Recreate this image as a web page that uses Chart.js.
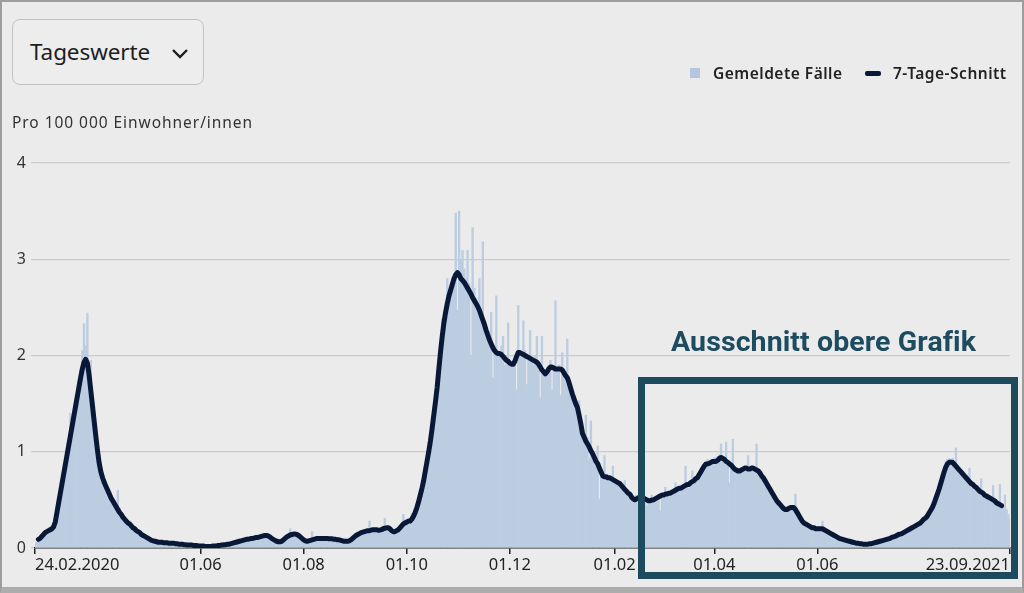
<!DOCTYPE html>
<html>
<head>
<meta charset="utf-8">
<script src="https://cdn.jsdelivr.net/npm/chart.js@4/dist/chart.umd.min.js"></script>
<style>
  html, body { margin: 0; padding: 0; }
  body { width: 1024px; height: 593px; background: #ebebeb; position: relative; overflow: hidden; font-family: "Noto Sans", sans-serif; color: #222; }
  #frame { position: absolute; left: 0; top: 0; width: 1024px; height: 593px; box-sizing: border-box; border: 2px solid #9d9d9d; border-bottom: 6px solid #adadad; pointer-events: none; z-index: 5; }
  #wrap { position: absolute; left: 0; top: 0; width: 1024px; height: 593px; }
  #dropdown { position: absolute; left: 12px; top: 19px; width: 192px; height: 66px; box-sizing: border-box; border: 1px solid #c3c3c3; border-radius: 8px; background: #ededed; z-index: 3; }
  #dropdown span { position: absolute; left: 17px; top: 17px; font-size: 22.5px; line-height: 30px; color: #1e1e1e; letter-spacing: -0.1px; }
  #dropdown svg { position: absolute; left: 157px; top: 26px; }
  #ytitle { position: absolute; left: 12px; top: 112px; font-size: 15.5px; line-height: 20px; color: #333; letter-spacing: 0.95px; z-index: 3; }
  .leg { position: absolute; top: 63px; font-size: 15.5px; line-height: 20px; font-weight: 600; color: #222; letter-spacing: 0.5px; z-index: 3; }
  #sw1 { position: absolute; left: 690px; top: 68px; width: 10px; height: 10px; background: #b3c6de; z-index: 3; }
  #sw2 { position: absolute; left: 865px; top: 71px; width: 16px; height: 5px; border-radius: 2px; background: #0a1838; z-index: 3; }
  #boxtitle { position: absolute; left: 671px; top: 324px; font-family: Roboto, sans-serif; font-weight: 700; font-size: 28.5px; line-height: 36px; color: #1d4c61; z-index: 3; letter-spacing: 0.1px; }
  #cutout { position: absolute; left: 638px; top: 377px; width: 380px; height: 202px; box-sizing: border-box; border: 7px solid #1c4b5e; z-index: 4; }
</style>
</head>
<body>
<div id="wrap"><canvas id="chart"></canvas></div>
<div id="dropdown"><span>Tageswerte</span>
  <svg width="20" height="14" viewBox="0 0 20 14"><path d="M3 4 L10 11 L17 4" fill="none" stroke="#1e1e1e" stroke-width="2.4"/></svg>
</div>
<div id="ytitle">Pro 100 000 Einwohner/innen</div>
<div id="sw1"></div><div class="leg" style="left:713px">Gemeldete Fälle</div>
<div id="sw2"></div><div class="leg" style="left:893px">7-Tage-Schnitt</div>
<div id="boxtitle">Ausschnitt obere Grafik</div>
<div id="cutout"></div>
<div id="frame"></div>
<script>
// daily values, 24.02.2020 .. 23.09.2021, per 100 000 inhabitants
const startDate = [2020, 1, 24]

const reported = [
  0.05, 0.06, 0.08, 0.10, 0.11, 0.13, 0.16, 0.18, 0.17, 0.20,
  0.22, 0.25, 0.30, 0.38, 0.50, 0.58, 0.66, 0.80, 0.92, 1.00,
  1.12, 1.40, 1.30, 1.45, 1.55, 1.62, 1.75, 1.85, 2.05, 2.33,
  2.10, 2.44, 1.90, 1.95, 1.50, 1.30, 1.15, 1.00, 0.85, 0.80,
  0.72, 0.70, 0.62, 0.60, 0.55, 0.52, 0.50, 0.48, 0.45, 0.60,
  0.42, 0.36, 0.33, 0.30, 0.28, 0.27, 0.25, 0.24, 0.22, 0.20,
  0.19, 0.17, 0.16, 0.15, 0.13, 0.12, 0.11, 0.10, 0.09, 0.08,
  0.08, 0.07, 0.07, 0.06, 0.06, 0.06, 0.05, 0.06, 0.05, 0.05,
  0.05, 0.05, 0.05, 0.04, 0.05, 0.04, 0.04, 0.04, 0.03, 0.04,
  0.03, 0.03, 0.03, 0.03, 0.02, 0.03, 0.02, 0.02, 0.02, 0.02,
  0.02, 0.01, 0.02, 0.01, 0.01, 0.02, 0.02, 0.02, 0.03, 0.02,
  0.03, 0.03, 0.04, 0.03, 0.04, 0.04, 0.05, 0.05, 0.06, 0.06,
  0.07, 0.07, 0.08, 0.08, 0.09, 0.09, 0.09, 0.10, 0.10, 0.11,
  0.11, 0.11, 0.12, 0.12, 0.12, 0.13, 0.14, 0.13, 0.12, 0.11,
  0.10, 0.09, 0.08, 0.07, 0.07, 0.06, 0.07, 0.09, 0.10, 0.12,
  0.13, 0.20, 0.14, 0.15, 0.15, 0.14, 0.13, 0.12, 0.10, 0.09,
  0.08, 0.07, 0.08, 0.08, 0.17, 0.09, 0.10, 0.10, 0.10, 0.11,
  0.10, 0.10, 0.10, 0.10, 0.10, 0.09, 0.10, 0.09, 0.09, 0.08,
  0.09, 0.08, 0.08, 0.07, 0.07, 0.07, 0.08, 0.09, 0.10, 0.12,
  0.13, 0.14, 0.15, 0.16, 0.17, 0.17, 0.18, 0.19, 0.28, 0.18,
  0.19, 0.19, 0.20, 0.18, 0.19, 0.19, 0.20, 0.31, 0.21, 0.22,
  0.20, 0.18, 0.17, 0.18, 0.18, 0.19, 0.22, 0.23, 0.35, 0.27,
  0.28, 0.29, 0.30, 0.36, 0.33, 0.38, 0.43, 0.50, 0.57, 0.64,
  0.72, 0.82, 0.92, 1.02, 1.13, 1.27, 1.40, 1.55, 1.70, 1.90,
  2.10, 2.38, 2.38, 2.50, 2.80, 2.65, 2.72, 2.80, 2.85, 3.48,
  2.47, 3.50, 3.00, 3.09, 2.90, 2.80, 3.09, 2.75, 2.00, 3.33,
  2.70, 2.60, 2.55, 2.80, 2.40, 3.18, 2.35, 2.30, 2.20, 2.25,
  2.45, 1.77, 2.10, 2.62, 2.05, 2.00, 2.10, 2.20, 1.90, 1.95,
  2.34, 1.90, 1.88, 1.95, 2.00, 1.64, 2.52, 2.05, 2.00, 2.36,
  2.05, 1.70, 2.00, 2.26, 1.95, 1.90, 2.00, 2.20, 1.85, 1.56,
  2.20, 1.85, 1.80, 1.85, 1.90, 1.95, 1.64, 1.90, 2.57, 1.85,
  1.90, 1.59, 2.03, 1.85, 1.80, 2.17, 1.75, 1.65, 1.60, 1.55,
  1.50, 1.45, 1.53, 1.35, 1.25, 1.20, 1.38, 1.15, 0.93, 1.32,
  1.00, 0.98, 0.92, 1.06, 0.51, 0.80, 0.78, 0.96, 0.75, 0.76,
  0.74, 0.73, 0.85, 0.72, 0.70, 0.70, 0.68, 0.66, 0.64, 0.70,
  0.60, 0.58, 0.57, 0.54, 0.52, 0.48, 0.55, 0.50, 0.60, 0.50,
  0.53, 0.50, 0.44, 0.52, 0.50, 0.55, 0.49, 0.53, 0.52, 0.56,
  0.39, 0.56, 0.57, 0.63, 0.56, 0.58, 0.60, 0.57, 0.60, 0.68,
  0.62, 0.63, 0.60, 0.64, 0.66, 0.85, 0.67, 0.62, 0.70, 0.80,
  0.72, 0.73, 0.75, 0.78, 0.80, 0.84, 0.88, 0.90, 0.92, 0.88,
  0.90, 0.92, 0.94, 0.93, 0.95, 0.97, 1.08, 0.92, 0.95, 1.10,
  0.90, 0.68, 0.88, 1.13, 0.85, 0.82, 0.82, 0.80, 0.82, 0.84,
  0.85, 0.84, 0.96, 0.82, 0.85, 0.84, 0.83, 1.08, 0.80, 0.78,
  0.76, 0.74, 0.70, 0.68, 0.65, 0.62, 0.59, 0.56, 0.53, 0.50,
  0.48, 0.46, 0.44, 0.42, 0.41, 0.41, 0.42, 0.43, 0.43, 0.44,
  0.56, 0.38, 0.35, 0.32, 0.29, 0.27, 0.26, 0.25, 0.24, 0.23,
  0.22, 0.22, 0.21, 0.21, 0.21, 0.21, 0.28, 0.20, 0.19, 0.18,
  0.17, 0.16, 0.15, 0.14, 0.13, 0.12, 0.11, 0.10, 0.09, 0.09,
  0.08, 0.08, 0.07, 0.07, 0.06, 0.06, 0.05, 0.05, 0.05, 0.04,
  0.04, 0.04, 0.04, 0.04, 0.05, 0.05, 0.05, 0.06, 0.06, 0.07,
  0.07, 0.08, 0.08, 0.09, 0.09, 0.10, 0.10, 0.11, 0.12, 0.12,
  0.13, 0.14, 0.15, 0.15, 0.16, 0.17, 0.18, 0.19, 0.20, 0.21,
  0.22, 0.23, 0.24, 0.25, 0.27, 0.29, 0.31, 0.32, 0.34, 0.37,
  0.40, 0.44, 0.48, 0.53, 0.58, 0.63, 0.70, 0.76, 0.82, 0.90,
  0.92, 0.93, 0.92, 0.93, 0.90, 1.04, 0.86, 0.84, 0.82, 0.80,
  0.78, 0.76, 0.74, 0.83, 0.70, 0.68, 0.66, 0.65, 0.63, 0.61,
  0.72, 0.59, 0.57, 0.56, 0.55, 0.54, 0.53, 0.65, 0.51, 0.49,
  0.48, 0.66, 0.46, 0.45, 0.55, 0.40, 0.35, 0.30
]

const avg7 = [
  null, null, 0.09, 0.10, 0.12, 0.14, 0.16, 0.17, 0.18, 0.19,
  0.20, 0.22, 0.27, 0.37, 0.47, 0.57, 0.67, 0.77, 0.87, 0.97,
  1.07, 1.17, 1.27, 1.37, 1.47, 1.57, 1.67, 1.77, 1.86, 1.93,
  1.96, 1.92, 1.80, 1.64, 1.48, 1.32, 1.16, 1.01, 0.88, 0.79,
  0.73, 0.68, 0.64, 0.60, 0.56, 0.52, 0.49, 0.46, 0.43, 0.40,
  0.37, 0.35, 0.32, 0.30, 0.28, 0.26, 0.25, 0.23, 0.21, 0.20,
  0.18, 0.17, 0.16, 0.14, 0.13, 0.12, 0.11, 0.10, 0.09, 0.08,
  0.075, 0.07, 0.065, 0.06, 0.06, 0.06, 0.055, 0.055, 0.055, 0.05,
  0.05, 0.05, 0.05, 0.045, 0.045, 0.04, 0.04, 0.04, 0.035, 0.035,
  0.03, 0.03, 0.03, 0.03, 0.025, 0.025, 0.025, 0.02, 0.02, 0.02,
  0.02, 0.015, 0.015, 0.015, 0.015, 0.02, 0.02, 0.02, 0.025, 0.025,
  0.03, 0.03, 0.035, 0.035, 0.04, 0.04, 0.045, 0.05, 0.055, 0.06,
  0.065, 0.07, 0.075, 0.08, 0.085, 0.09, 0.09, 0.095, 0.10, 0.10,
  0.105, 0.11, 0.11, 0.115, 0.12, 0.125, 0.13, 0.13, 0.125, 0.115,
  0.10, 0.09, 0.08, 0.07, 0.065, 0.065, 0.07, 0.085, 0.10, 0.115,
  0.125, 0.135, 0.14, 0.145, 0.145, 0.14, 0.13, 0.115, 0.10, 0.085,
  0.075, 0.07, 0.075, 0.08, 0.085, 0.09, 0.095, 0.10, 0.10, 0.10,
  0.10, 0.10, 0.10, 0.10, 0.095, 0.095, 0.095, 0.09, 0.09, 0.085,
  0.085, 0.08, 0.075, 0.07, 0.07, 0.07, 0.075, 0.085, 0.10, 0.115,
  0.13, 0.14, 0.15, 0.16, 0.165, 0.17, 0.175, 0.18, 0.18, 0.185,
  0.19, 0.19, 0.19, 0.185, 0.185, 0.19, 0.20, 0.205, 0.21, 0.21,
  0.20, 0.18, 0.17, 0.17, 0.18, 0.19, 0.21, 0.23, 0.25, 0.26,
  0.27, 0.28, 0.28, 0.30, 0.33, 0.37, 0.42, 0.48, 0.55, 0.62,
  0.70, 0.80, 0.90, 1.00, 1.11, 1.24, 1.38, 1.52, 1.67, 1.86,
  2.04, 2.20, 2.34, 2.45, 2.54, 2.62, 2.68, 2.74, 2.80, 2.84,
  2.86, 2.84, 2.80, 2.78, 2.76, 2.73, 2.70, 2.67, 2.64, 2.60,
  2.57, 2.54, 2.51, 2.47, 2.42, 2.37, 2.32, 2.26, 2.21, 2.16,
  2.12, 2.08, 2.05, 2.03, 2.02, 2.02, 2.01, 1.99, 1.97, 1.95,
  1.94, 1.92, 1.91, 1.91, 1.94, 1.99, 2.03, 2.03, 2.02, 2.01,
  2.00, 1.99, 1.98, 1.97, 1.96, 1.95, 1.94, 1.93, 1.91, 1.88,
  1.85, 1.83, 1.81, 1.83, 1.86, 1.88, 1.88, 1.87, 1.86, 1.86,
  1.86, 1.86, 1.85, 1.82, 1.79, 1.77, 1.72, 1.66, 1.60, 1.55,
  1.50, 1.46, 1.38, 1.29, 1.19, 1.15, 1.11, 1.08, 1.05, 1.01,
  0.98, 0.94, 0.90, 0.875, 0.83, 0.79, 0.75, 0.74, 0.74, 0.73,
  0.73, 0.72, 0.71, 0.70, 0.69, 0.68, 0.67, 0.65, 0.63, 0.61,
  0.59, 0.57, 0.56, 0.53, 0.51, 0.50, 0.51, 0.52, 0.53, 0.53,
  0.52, 0.51, 0.50, 0.49, 0.49, 0.50, 0.50, 0.51, 0.52, 0.53,
  0.54, 0.55, 0.55, 0.56, 0.56, 0.57, 0.57, 0.58, 0.59, 0.60,
  0.61, 0.62, 0.62, 0.63, 0.64, 0.65, 0.66, 0.66, 0.68, 0.69,
  0.70, 0.72, 0.73, 0.76, 0.79, 0.82, 0.85, 0.87, 0.875, 0.88,
  0.89, 0.90, 0.90, 0.90, 0.91, 0.93, 0.94, 0.93, 0.92, 0.90,
  0.89, 0.875, 0.86, 0.84, 0.82, 0.81, 0.80, 0.80, 0.81, 0.82,
  0.83, 0.83, 0.82, 0.82, 0.83, 0.83, 0.82, 0.81, 0.80, 0.78,
  0.75, 0.73, 0.70, 0.67, 0.64, 0.61, 0.58, 0.55, 0.52, 0.49,
  0.47, 0.45, 0.43, 0.41, 0.40, 0.40, 0.41, 0.42, 0.42, 0.42,
  0.40, 0.37, 0.34, 0.31, 0.28, 0.26, 0.25, 0.24, 0.23, 0.22,
  0.21, 0.21, 0.20, 0.20, 0.20, 0.20, 0.20, 0.19, 0.18, 0.17,
  0.16, 0.15, 0.14, 0.13, 0.12, 0.11, 0.10, 0.095, 0.09, 0.085,
  0.08, 0.075, 0.07, 0.065, 0.06, 0.055, 0.05, 0.05, 0.045, 0.045,
  0.04, 0.04, 0.04, 0.04, 0.045, 0.045, 0.05, 0.055, 0.06, 0.065,
  0.07, 0.075, 0.08, 0.085, 0.09, 0.095, 0.10, 0.11, 0.115, 0.12,
  0.13, 0.14, 0.145, 0.15, 0.16, 0.17, 0.18, 0.19, 0.20, 0.21,
  0.22, 0.23, 0.24, 0.25, 0.26, 0.28, 0.30, 0.31, 0.33, 0.36,
  0.39, 0.42, 0.46, 0.51, 0.56, 0.61, 0.67, 0.73, 0.79, 0.84,
  0.875, 0.89, 0.89, 0.89, 0.87, 0.85, 0.83, 0.81, 0.79, 0.77,
  0.75, 0.73, 0.71, 0.69, 0.67, 0.66, 0.64, 0.63, 0.61, 0.59,
  0.58, 0.57, 0.55, 0.54, 0.53, 0.52, 0.51, 0.50, 0.49, 0.47,
  0.46, 0.45, 0.44, null, null, null, null, null
]

const tickDates = ['24.02.2020', '01.06.2020', '01.08.2020', '01.10.2020', '01.12.2020', '01.02.2021', '01.04.2021', '01.06.2021', '23.09.2021']
const tickText = ['24.02.2020', '01.06', '01.08', '01.10', '01.12', '01.02', '01.04', '01.06', '23.09.2021']
const yTicks = [0, 1, 2, 3, 4]

// category labels, one per day
const days = []
for (let i = 0; i < reported.length; i++) {
  const d = new Date(startDate[0], startDate[1], startDate[2] + i)
  days.push(String(d.getDate()).padStart(2, '0') + '.' + String(d.getMonth() + 1).padStart(2, '0') + '.' + d.getFullYear())
}

Chart.defaults.font.family = '"Noto Sans", sans-serif'
Chart.defaults.color = '#333'

const chart = new Chart(document.getElementById('chart'), {
  type: 'bar',
  data: {
    labels: days,
    datasets: [
      {
        type: 'line',
        label: '7-Tage-Schnitt',
        data: avg7,
        borderColor: '#0a1838',
        borderWidth: 5,
        pointRadius: 0,
        tension: 0,
        borderJoinStyle: 'round',
        borderCapStyle: 'round',
        order: 0
      },
      {
        label: 'Gemeldete Fälle',
        data: reported,
        backgroundColor: '#bccde1',
        borderWidth: 0,
        barPercentage: 1,
        categoryPercentage: 1,
        order: 1
      }
    ]
  },
  options: {
    responsive: true,
    maintainAspectRatio: false,
    animation: false,
    layout: { padding: { top: 163, right: 14, left: 0, bottom: 0 } },
    plugins: { legend: { display: false }, tooltip: { enabled: false } },
    scales: {
      x: {
        type: 'category',
        offset: false,
        afterBuildTicks: axis => {
          axis.ticks = tickDates.map(t => ({ value: days.indexOf(t) }))
        },
        afterFit: axis => { axis.height = 45 },
        ticks: {
          autoSkip: false,
          maxRotation: 0,
          align: 'inner',
          padding: 1,
          color: '#222',
          font: { size: 16.5 },
          callback: value => tickText[tickDates.indexOf(days[value])]
        },
        grid: { offset: false, drawOnChartArea: false, color: '#222', lineWidth: 1.5, tickLength: 6 },
        border: { display: true, color: '#222', width: 1.5 }
      },
      y: {
        min: 0,
        max: 4,
        afterBuildTicks: axis => { axis.ticks = yTicks.map(v => ({ value: v })) },
        afterFit: axis => { axis.width = 35 },
        ticks: { padding: 5, color: '#333', font: { size: 16 } },
        grid: { color: '#cbcbcb', lineWidth: 1.2, tickLength: 4 },
        border: { display: false }
      }
    }
  }
})
</script>
</body>
</html>
